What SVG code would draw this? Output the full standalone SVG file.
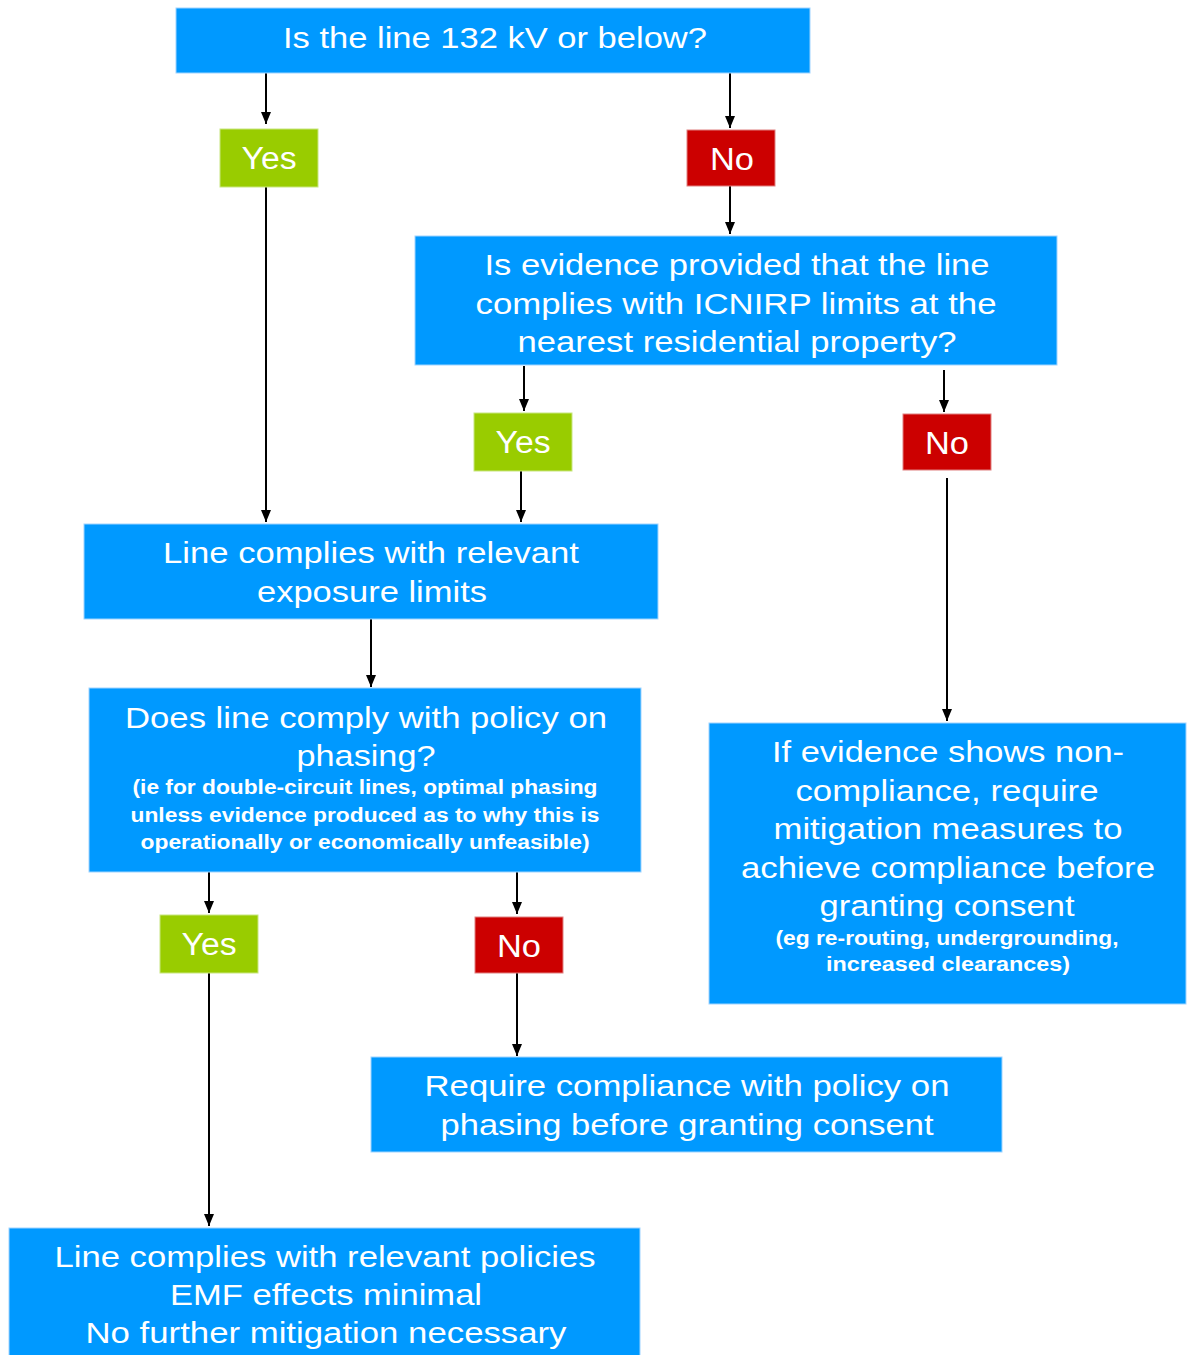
<svg xmlns="http://www.w3.org/2000/svg" width="1193" height="1355" viewBox="0 0 1193 1355">
<style>
.b{fill:#0099FF;stroke:#9fd4ff;stroke-width:1}
.y{fill:#99CC00;stroke:#c8e680;stroke-width:1}
.n{fill:#CC0000;stroke:#e08080;stroke-width:1}
text{font-family:"Liberation Sans",Arial,sans-serif;fill:#fff;text-anchor:middle}
.t{font-size:29px}
.l{font-size:31px}
.s{font-size:20px;font-weight:bold}
.c line{stroke:#000;stroke-width:2}
</style>
<defs>
<marker id="ah" markerWidth="12" markerHeight="10" refX="12" refY="5" orient="auto" markerUnits="userSpaceOnUse" viewBox="0 0 12 10">
<path d="M0,0 L12,5 L0,10 Z" fill="#000"/>
</marker>
</defs>
<rect width="1193" height="1355" fill="#fff"/>
<g class="c">
<line x1="266" y1="73" x2="266" y2="124" marker-end="url(#ah)"/>
<line x1="730" y1="73" x2="730" y2="128" marker-end="url(#ah)"/>
<line x1="730" y1="186" x2="730" y2="234" marker-end="url(#ah)"/>
<line x1="266" y1="187" x2="266" y2="522" marker-end="url(#ah)"/>
<line x1="524" y1="366" x2="524" y2="411" marker-end="url(#ah)"/>
<line x1="944" y1="370" x2="944" y2="412" marker-end="url(#ah)"/>
<line x1="521" y1="471" x2="521" y2="522" marker-end="url(#ah)"/>
<line x1="947" y1="478" x2="947" y2="721" marker-end="url(#ah)"/>
<line x1="371" y1="619" x2="371" y2="687" marker-end="url(#ah)"/>
<line x1="209" y1="872" x2="209" y2="913" marker-end="url(#ah)"/>
<line x1="517" y1="872" x2="517" y2="914" marker-end="url(#ah)"/>
<line x1="209" y1="973" x2="209" y2="1226" marker-end="url(#ah)"/>
<line x1="517" y1="973" x2="517" y2="1056" marker-end="url(#ah)"/>
</g>
<g id="q1">
<rect class="b" x="176" y="8" width="634" height="65"/>
<text class="t" x="495" y="48" textLength="424" lengthAdjust="spacingAndGlyphs">Is the line 132 kV or below?</text>
</g>
<g id="yes1">
<rect class="y" x="220" y="129" width="98" height="58"/>
<text class="l" x="269" y="169" textLength="55" lengthAdjust="spacingAndGlyphs">Yes</text>
</g>
<g id="no1">
<rect class="n" x="687" y="130" width="88" height="56"/>
<text class="l" x="732" y="170" textLength="44" lengthAdjust="spacingAndGlyphs">No</text>
</g>
<g id="q2">
<rect class="b" x="415" y="236" width="642" height="129"/>
<text class="t" x="737" y="275" textLength="505" lengthAdjust="spacingAndGlyphs">Is evidence provided that the line</text>
<text class="t" x="736" y="314" textLength="521" lengthAdjust="spacingAndGlyphs">complies with ICNIRP limits at the</text>
<text class="t" x="737" y="352" textLength="439" lengthAdjust="spacingAndGlyphs">nearest residential property?</text>
</g>
<g id="yes2">
<rect class="y" x="474" y="413" width="98" height="58"/>
<text class="l" x="523" y="453" textLength="55" lengthAdjust="spacingAndGlyphs">Yes</text>
</g>
<g id="no2">
<rect class="n" x="903" y="414" width="88" height="56"/>
<text class="l" x="947" y="454" textLength="44" lengthAdjust="spacingAndGlyphs">No</text>
</g>
<g id="r1">
<rect class="b" x="84" y="524" width="574" height="95"/>
<text class="t" x="371" y="563" textLength="416" lengthAdjust="spacingAndGlyphs">Line complies with relevant</text>
<text class="t" x="372" y="602" textLength="230" lengthAdjust="spacingAndGlyphs">exposure limits</text>
</g>
<g id="q3">
<rect class="b" x="89" y="688" width="552" height="184"/>
<text class="t" x="366" y="728" textLength="482" lengthAdjust="spacingAndGlyphs">Does line comply with policy on</text>
<text class="t" x="366" y="766" textLength="139" lengthAdjust="spacingAndGlyphs">phasing?</text>
<text class="s" x="365" y="794" textLength="465" lengthAdjust="spacingAndGlyphs">(ie for double-circuit lines, optimal phasing</text>
<text class="s" x="365" y="822" textLength="469" lengthAdjust="spacingAndGlyphs">unless evidence produced as to why this is</text>
<text class="s" x="365" y="849" textLength="449" lengthAdjust="spacingAndGlyphs">operationally or economically unfeasible)</text>
</g>
<g id="r2">
<rect class="b" x="709" y="723" width="477" height="281"/>
<text class="t" x="948" y="762" textLength="352" lengthAdjust="spacingAndGlyphs">If evidence shows non-</text>
<text class="t" x="947" y="801" textLength="303" lengthAdjust="spacingAndGlyphs">compliance, require</text>
<text class="t" x="948" y="839" textLength="349" lengthAdjust="spacingAndGlyphs">mitigation measures to</text>
<text class="t" x="948" y="878" textLength="414" lengthAdjust="spacingAndGlyphs">achieve compliance before</text>
<text class="t" x="947" y="916" textLength="255" lengthAdjust="spacingAndGlyphs">granting consent</text>
<text class="s" x="947" y="945" textLength="343" lengthAdjust="spacingAndGlyphs">(eg re-routing, undergrounding,</text>
<text class="s" x="948" y="971" textLength="244" lengthAdjust="spacingAndGlyphs">increased clearances)</text>
</g>
<g id="yes3">
<rect class="y" x="160" y="915" width="98" height="58"/>
<text class="l" x="209" y="955" textLength="55" lengthAdjust="spacingAndGlyphs">Yes</text>
</g>
<g id="no3">
<rect class="n" x="475" y="917" width="88" height="56"/>
<text class="l" x="519" y="957" textLength="44" lengthAdjust="spacingAndGlyphs">No</text>
</g>
<g id="r3">
<rect class="b" x="371" y="1057" width="631" height="95"/>
<text class="t" x="687" y="1096" textLength="525" lengthAdjust="spacingAndGlyphs">Require compliance with policy on</text>
<text class="t" x="687" y="1135" textLength="493" lengthAdjust="spacingAndGlyphs">phasing before granting consent</text>
</g>
<g id="r4">
<rect class="b" x="9" y="1228" width="631" height="140"/>
<text class="t" x="325" y="1267" textLength="541" lengthAdjust="spacingAndGlyphs">Line complies with relevant policies</text>
<text class="t" x="326" y="1305" textLength="312" lengthAdjust="spacingAndGlyphs">EMF effects minimal</text>
<text class="t" x="326" y="1343" textLength="481" lengthAdjust="spacingAndGlyphs">No further mitigation necessary</text>
</g>
</svg>
